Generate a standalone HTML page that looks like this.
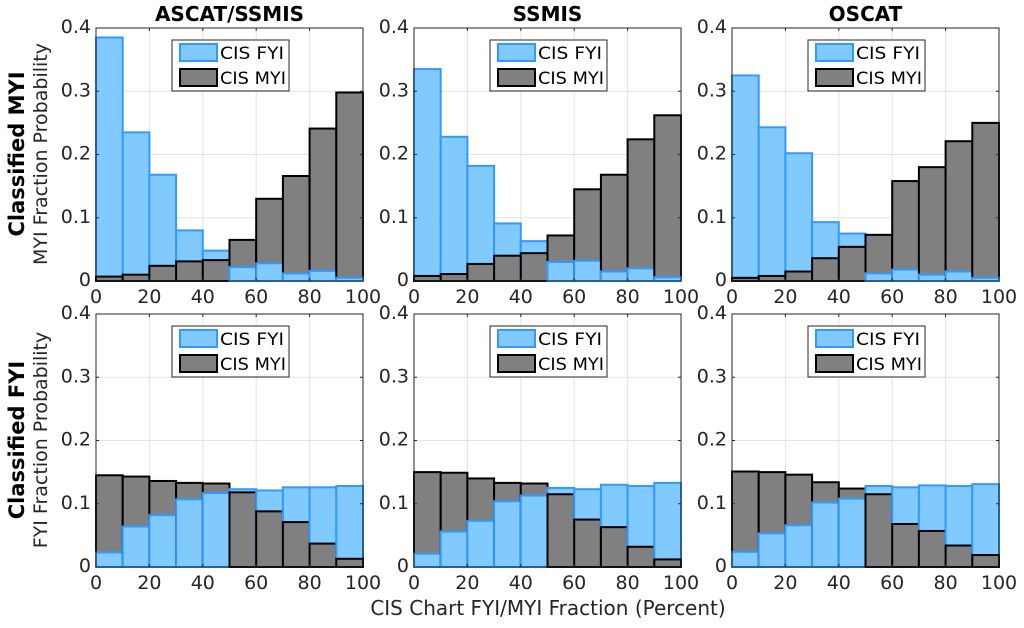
<!DOCTYPE html>
<html><head><meta charset="utf-8"><style>
html,body{margin:0;padding:0;background:#fff;}
svg{display:block;font-family:"DejaVu Sans","Liberation Sans",sans-serif;}
</style></head><body>
<svg id="chart" width="1024" height="628" viewBox="0 0 1024 628" xmlns="http://www.w3.org/2000/svg"></svg>
<script>
const binEdges = [0,10,20,30,40,50,60,70,80,90,100];
const xTicks = [0,20,40,60,80,100];
const yTicks = [0,0.1,0.2,0.3,0.4];
const yTickLabels = ["0","0.1","0.2","0.3","0.4"];
const panelTitles = ["ASCAT/SSMIS","SSMIS","OSCAT"];
const topFyi1 = [0.385,0.235,0.168,0.080,0.048,0.022,0.028,0.012,0.016,0.005];
const topMyi1 = [0.007,0.010,0.024,0.031,0.033,0.065,0.130,0.166,0.241,0.298];
const topFyi2 = [0.335,0.228,0.182,0.091,0.063,0.030,0.032,0.015,0.020,0.006];
const topMyi2 = [0.008,0.011,0.027,0.040,0.044,0.072,0.145,0.168,0.224,0.262];
const topFyi3 = [0.325,0.243,0.202,0.093,0.075,0.012,0.018,0.010,0.015,0.005];
const topMyi3 = [0.005,0.008,0.015,0.036,0.054,0.073,0.158,0.180,0.221,0.250];
const botFyi1 = [0.023,0.064,0.082,0.107,0.117,0.123,0.121,0.126,0.126,0.128];
const botMyi1 = [0.145,0.143,0.136,0.133,0.132,0.118,0.088,0.071,0.037,0.013];
const botFyi2 = [0.021,0.056,0.073,0.104,0.113,0.125,0.123,0.130,0.128,0.133];
const botMyi2 = [0.150,0.149,0.140,0.133,0.132,0.115,0.075,0.063,0.032,0.012];
const botFyi3 = [0.024,0.053,0.066,0.102,0.108,0.128,0.126,0.129,0.128,0.131];
const botMyi3 = [0.151,0.150,0.146,0.134,0.124,0.115,0.068,0.057,0.034,0.019];

const NS="http://www.w3.org/2000/svg";
const svg=document.getElementById('chart');
function mk(tag,attrs,parent,text){const e=document.createElementNS(NS,tag);for(const k in attrs)e.setAttribute(k,attrs[k]);if(text!==undefined)e.textContent=text;(parent||svg).appendChild(e);return e;}

const colsX=[96,414,732];
const rowsY=[[28,281],[314,567]];
const PW=267;
const FYI_FILL="#80CAFF",FYI_EDGE="#3399FF",MYI_FILL="#808080",MYI_EDGE="#000";
const panels=[
 [topFyi1,topMyi1],[topFyi2,topMyi2],[topFyi3,topMyi3],
 [botFyi1,botMyi1],[botFyi2,botMyi2],[botFyi3,botMyi3]];

panels.forEach((p,i)=>{
 const r=Math.floor(i/3),c=i%3;
 const x0=colsX[c],x1=x0+PW,yT=rowsY[r][0],yB=rowsY[r][1];
 const sx=v=>x0+(v-0)/100*(x1-x0);
 const sy=v=>yB-(v/0.4)*(yB-yT);
 const g=mk('g',{},svg);
 
 
 mk('rect',{x:x0,y:yT,width:x1-x0,height:yB-yT,fill:'#fff'},g);
 xTicks.forEach(t=>{const gl=mk('line',{x1:sx(t),x2:sx(t),y1:yT,y2:yB,stroke:'#e3e3e3','stroke-width':1},g);
  });
 yTicks.forEach(t=>{const gl=mk('line',{x1:x0,x2:x1,y1:sy(t),y2:sy(t),stroke:'#e3e3e3','stroke-width':1},g);
  });
 for(let b=0;b<binEdges.length-1;b++){
  const items=[{v:p[0][b],f:FYI_FILL,e:FYI_EDGE,n:'fyi'},{v:p[1][b],f:MYI_FILL,e:MYI_EDGE,n:'myi'}];
  items.sort((a,b2)=>b2.v-a.v);
  items.forEach(it=>{
   const bx=sx(binEdges[b]),bw=sx(binEdges[b+1])-bx,by=sy(it.v);
   const rc=mk('rect',{x:bx,y:by,width:bw,height:yB-by,fill:it.f,stroke:it.e,'stroke-width':2},g);
   
   
  });
 }
 mk('rect',{x:x0,y:yT,width:x1-x0,height:yB-yT,fill:'none',stroke:'#262626','stroke-width':1},g);
 xTicks.forEach(t=>{
  mk('line',{x1:sx(t),x2:sx(t),y1:yB,y2:yB-3,stroke:'#262626'},g);
  mk('line',{x1:sx(t),x2:sx(t),y1:yT,y2:yT+3,stroke:'#262626'},g);
  const tl=mk('text',{x:sx(t),y:yB+22,'text-anchor':'middle','font-size':19,fill:'#262626'},g,String(t));
  
 });
 yTicks.forEach((t,k)=>{
  mk('line',{x1:x0,x2:x0+3,y1:sy(t),y2:sy(t),stroke:'#262626'},g);
  mk('line',{x1:x1,x2:x1-3,y1:sy(t),y2:sy(t),stroke:'#262626'},g);
  const tl=mk('text',{x:x0-5,y:sy(t)+5,'text-anchor':'end','font-size':19,fill:'#262626'},g,yTickLabels[k]);
  
 });
 const lg=mk('g',{},g);
 
 const lx=x0+76,ly=yT+12;
 mk('rect',{x:lx,y:ly,width:117,height:51,fill:'#fff',stroke:'#262626','stroke-width':1},lg);
 mk('rect',{x:lx+8,y:ly+4,width:37,height:17,fill:FYI_FILL,stroke:FYI_EDGE,'stroke-width':2},lg);
 mk('rect',{x:lx+8,y:ly+29,width:37,height:17,fill:MYI_FILL,stroke:MYI_EDGE,'stroke-width':2},lg);
 const l1=mk('text',{x:lx+48,y:ly+19,'font-size':17,fill:'#000',textLength:64,lengthAdjust:'spacingAndGlyphs'},lg,'CIS FYI');
 
 const l2=mk('text',{x:lx+48,y:ly+44,'font-size':17,fill:'#000',textLength:66,lengthAdjust:'spacingAndGlyphs'},lg,'CIS MYI');
 
 if(r===0){
  const tt=mk('text',{x:(x0+x1)/2,y:yT-7,'text-anchor':'middle','font-size':20,'font-weight':'bold',fill:'#000'},svg,panelTitles[c]);
  
 }
});
[[154,'Classified MYI','MYI Fraction Probability'],[440,'Classified FYI','FYI Fraction Probability']].forEach(a=>{
 const t1=mk('text',{x:0,y:0,'text-anchor':'middle','font-size':21,'font-weight':'bold',fill:'#000',transform:`translate(24,${a[0]}) rotate(-90)`},svg,a[1]);
 
 const t2=mk('text',{x:0,y:0,'text-anchor':'middle','font-size':19,fill:'#262626',transform:`translate(47,${a[0]}) rotate(-90)`},svg,a[2]);
 
});
const xl=mk('text',{x:548,y:615,'text-anchor':'middle','font-size':20,fill:'#262626'},svg,'CIS Chart FYI/MYI Fraction (Percent)');


</script>
</body></html>
